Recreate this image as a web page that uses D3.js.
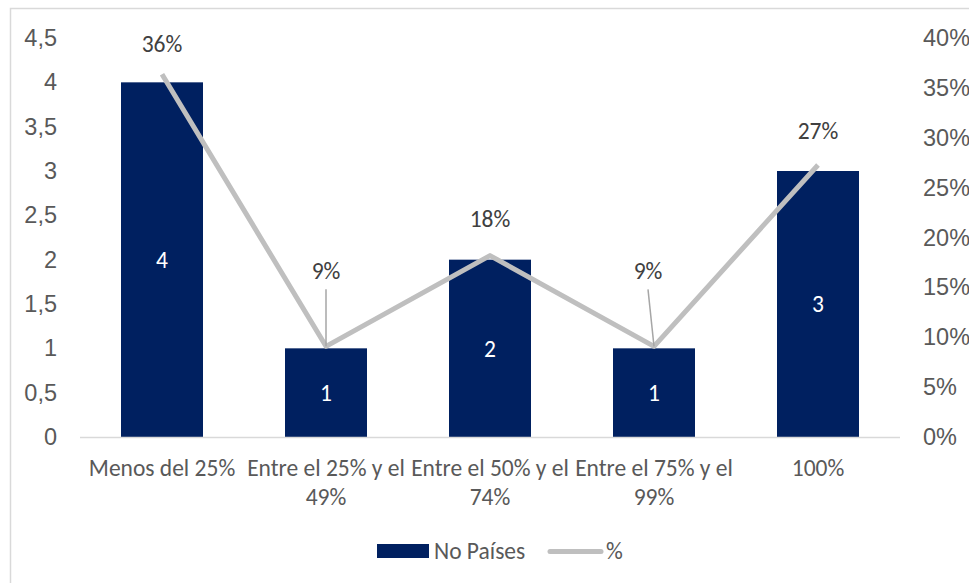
<!DOCTYPE html>
<html>
<head>
<meta charset="utf-8">
<script src="https://cdn.jsdelivr.net/npm/d3@7/dist/d3.min.js"></script>
<style>
  html, body { margin: 0; padding: 0; background: #fff; }
  svg { display: block; font-family: Carlito, Calibri, Lato, sans-serif; }
</style>
</head>
<body>
<svg id="chart" width="969" height="583"></svg>
<script>
// Countries per coverage range, and their share of the total
const categories = [
  ["Menos del 25%"],
  ["Entre el 25% y el", "49%"],
  ["Entre el 50% y el", "74%"],
  ["Entre el 75% y el", "99%"],
  ["100%"]
];
const countries = [4, 1, 2, 1, 3];
const shares = [4 / 11, 1 / 11, 2 / 11, 1 / 11, 3 / 11];
const leftTicks = [0, 0.5, 1, 1.5, 2, 2.5, 3, 3.5, 4, 4.5];
const rightTicks = [0, 0.05, 0.1, 0.15, 0.2, 0.25, 0.3, 0.35, 0.4];
const seriesNames = ["No Países", "%"];

const svg = d3.select("#chart");
const W = 969, H = 583;
const margin = { left: 80, right: 69, top: 38, bottom: 146 };
const plotW = W - margin.left - margin.right;
const plotH = H - margin.top - margin.bottom;

const navy = "#002060";
const grey = "#bfbfbf";
const textCol = "#595959";
const labelCol = "#404040";
const fontSize = 23.5;

// outer chart frame
svg.append("rect")
  .attr("x", 10.5).attr("y", 8.5)
  .attr("width", W + 10).attr("height", H + 10)
  .attr("fill", "none").attr("stroke", "#d9d9d9").attr("stroke-width", 1.5);

const g = svg.append("g").attr("transform", `translate(${margin.left},${margin.top})`);

const x = d3.scaleBand().domain(d3.range(categories.length)).range([0, plotW]).paddingInner(0.5).paddingOuter(0.25);
const yL = d3.scaleLinear().domain([0, 4.5]).range([plotH, 0]);
const yR = d3.scaleLinear().domain([0, 0.4]).range([plotH, 0]);

// left axis
const leftAxis = g.append("g")
  .call(d3.axisLeft(yL).tickValues(leftTicks).tickSize(0).tickPadding(23)
    .tickFormat(d => d3.format("")(d).replace(".", ",")));
leftAxis.select(".domain").remove();
leftAxis.selectAll("text").attr("fill", textCol).style("font-size", fontSize + "px")
  .style("font-family", null);

// right axis
const rightAxis = g.append("g").attr("transform", `translate(${plotW},0)`)
  .call(d3.axisRight(yR).tickValues(rightTicks).tickSize(0).tickPadding(23)
    .tickFormat(d3.format(".0%")));
rightAxis.select(".domain").remove();
rightAxis.selectAll("text").attr("fill", textCol).style("font-size", fontSize + "px")
  .style("font-family", null);

// bars
g.selectAll("rect.bar").data(countries).join("rect")
  .attr("class", "bar")
  .attr("x", (d, i) => x(i))
  .attr("width", x.bandwidth())
  .attr("y", d => yL(d))
  .attr("height", d => plotH - yL(d))
  .attr("fill", navy);

// category baseline
g.append("line")
  .attr("x1", 0).attr("x2", plotW)
  .attr("y1", plotH + 0.5).attr("y2", plotH + 0.5)
  .attr("stroke", "#d9d9d9").attr("stroke-width", 1.5);

// bar value labels
g.selectAll("text.barlab").data(countries).join("text")
  .attr("class", "barlab")
  .attr("x", (d, i) => x(i) + x.bandwidth() / 2)
  .attr("y", d => (yL(d) + plotH) / 2)
  .attr("dy", "0.35em")
  .attr("text-anchor", "middle")
  .attr("fill", "#fff")
  .style("font-size", fontSize + "px")
  .text(d => d);

// share line
const cx = i => x(i) + x.bandwidth() / 2;
const line = d3.line().x((d, i) => cx(i)).y(d => yR(d));
g.append("path").datum(shares)
  .attr("d", line)
  .attr("fill", "none")
  .attr("stroke", grey)
  .attr("stroke-width", 5)
  .attr("stroke-linejoin", "round");

// share labels; the two small ones sit higher with leader lines
const labelLift = [31, 76, 37, 76, 34];
const labelShift = [0, 0, 0, -6, 0];
shares.forEach((v, i) => {
  const px = cx(i), py = yR(v);
  const lx = px + labelShift[i], ly = py - labelLift[i];
  if (labelLift[i] > 50) {
    g.append("line")
      .attr("x1", lx).attr("y1", ly + 19)
      .attr("x2", px).attr("y2", py)
      .attr("stroke", "#a6a6a6").attr("stroke-width", 1.5);
  }
  g.append("text")
    .attr("x", lx).attr("y", ly)
    .attr("dy", "0.35em")
    .attr("text-anchor", "middle")
    .attr("fill", labelCol)
    .style("font-size", fontSize + "px")
    .text(d3.format(".0%")(v));
});

// category labels
const catG = g.append("g").attr("transform", `translate(0,${plotH})`);
categories.forEach((lines, i) => {
  const t = catG.append("text")
    .attr("x", cx(i)).attr("y", 39)
    .attr("text-anchor", "middle")
    .attr("fill", textCol)
    .style("font-size", fontSize + "px");
  lines.forEach((s, k) => {
    t.append("tspan").attr("x", cx(i)).attr("dy", k === 0 ? 0 : 29).text(s);
  });
});

// legend
const lg = svg.append("g");
lg.append("rect").attr("x", 377).attr("y", 544).attr("width", 52).attr("height", 14).attr("fill", navy);
lg.append("text").attr("x", 434).attr("y", 551).attr("dy", "0.35em")
  .attr("fill", textCol).style("font-size", fontSize + "px").text(seriesNames[0]);
lg.append("line").attr("x1", 550).attr("x2", 601).attr("y1", 551.5).attr("y2", 551.5)
  .attr("stroke", grey).attr("stroke-width", 5).attr("stroke-linecap", "round");
lg.append("text").attr("x", 606).attr("y", 551).attr("dy", "0.35em")
  .attr("fill", textCol).style("font-size", fontSize + "px").text(seriesNames[1]);
</script>
</body>
</html>
